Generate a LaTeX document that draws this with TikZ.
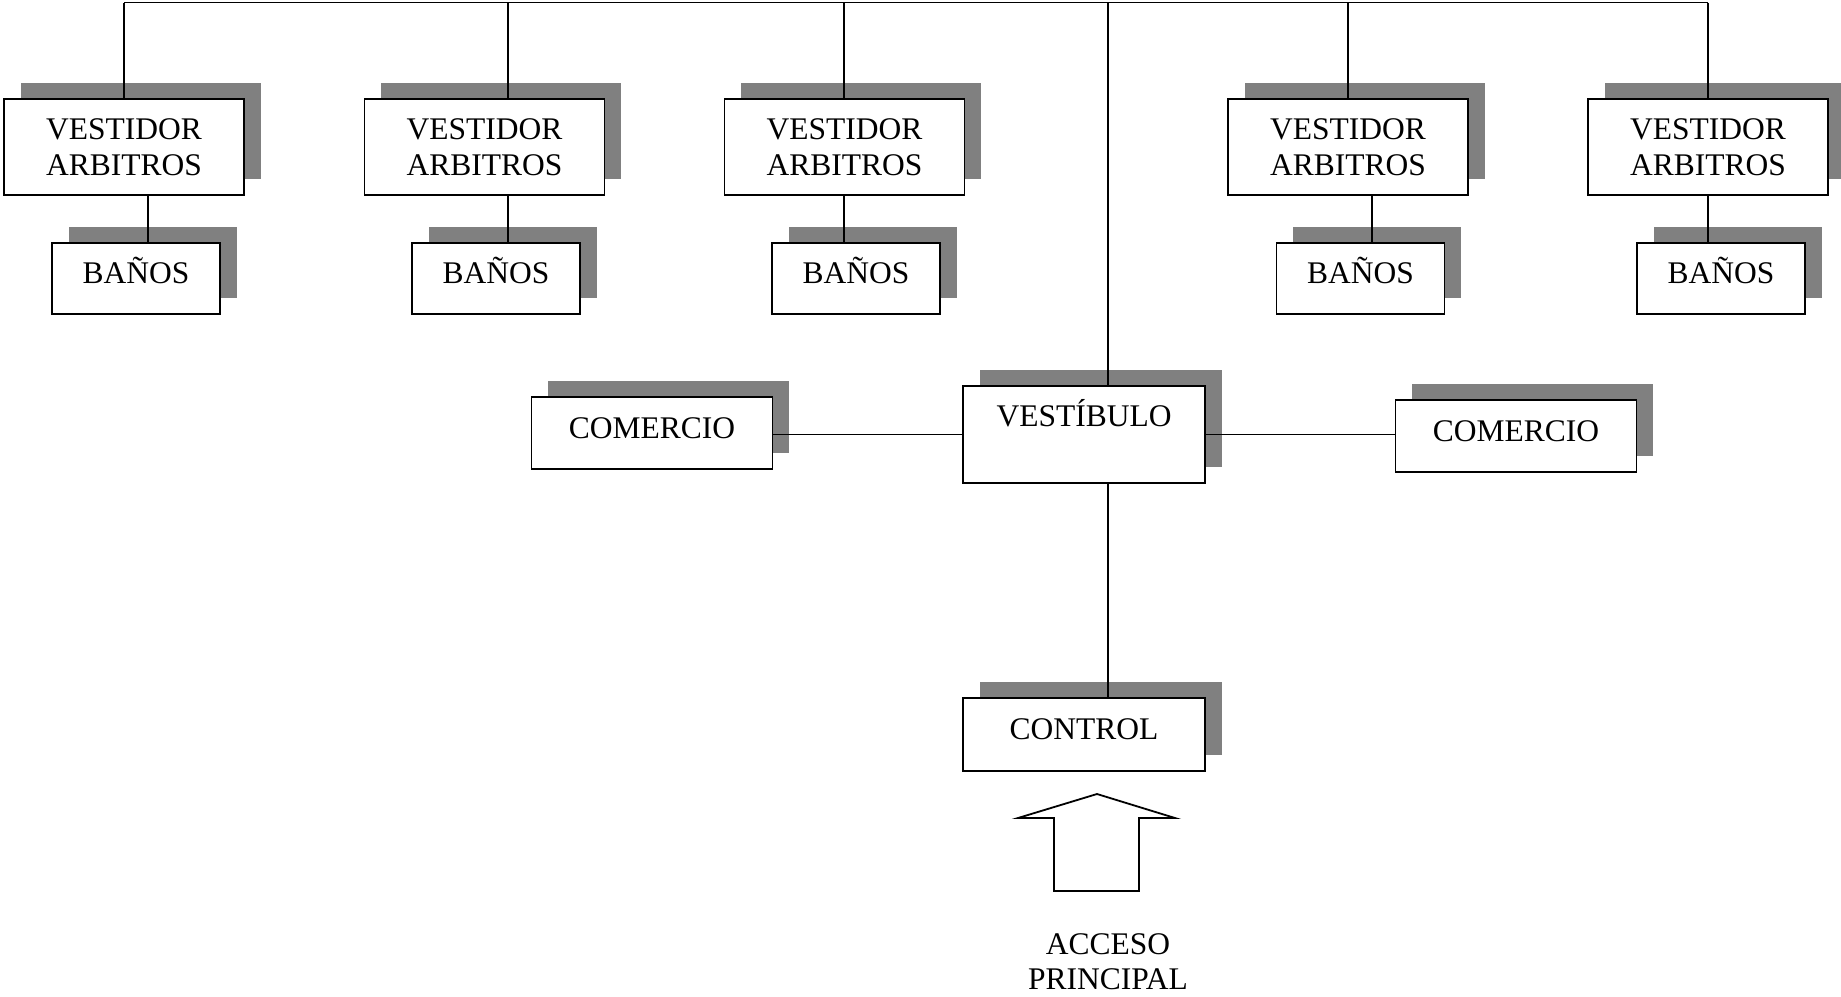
\documentclass[tikz,border=0pt]{standalone}
\usepackage{fontspec}
\setmainfont{Liberation Serif}
\usetikzlibrary{shadows}
\tikzset{
  base/.style={draw=black, line width=1.8pt, fill=white, inner sep=0pt, outer sep=0pt,
    font=\fontsize{31.5}{36}\selectfont,
    drop shadow={shadow xshift=16.5pt, shadow yshift=16pt, fill=gray, opacity=1, draw=none}},
  vest/.style={base, minimum width=240pt, minimum height=96pt, align=center},
  bano/.style={base, minimum width=168pt, minimum height=71pt, text height=21pt, text depth=12pt},
  com/.style={base, minimum width=241pt, minimum height=72pt, text height=21pt, text depth=11pt},
  conn/.style={draw=black, line width=1.8pt},
  entry/.style={draw=black, line width=1.8pt, line join=miter, fill=white},
  label/.style={font=\fontsize{31.5}{35}\selectfont, align=center, inner sep=0pt}
}
\begin{document}
\begin{tikzpicture}[x=1pt, y=-1pt]
\useasboundingbox (0,0) rectangle (1841,996);
% boxes
\node[vest] (V1) at (124,147) {VESTIDOR\\ARBITROS};
\node[vest] (V2) at (484.5,147) {VESTIDOR\\ARBITROS};
\node[vest] (V3) at (844.5,147) {VESTIDOR\\ARBITROS};
\node[vest] (V4) at (1348,147) {VESTIDOR\\ARBITROS};
\node[vest] (V5) at (1708,147) {VESTIDOR\\ARBITROS};
\node[bano] (B1) at (136,278.5) {BAÑOS};
\node[bano] (B2) at (496,278.5) {BAÑOS};
\node[bano] (B3) at (856,278.5) {BAÑOS};
\node[bano] (B4) at (1360.5,278.5) {BAÑOS};
\node[bano] (B5) at (1721,278.5) {BAÑOS};
\node[com] (C1) at (652,433) {COMERCIO};
\node[com] (C2) at (1516,436) {COMERCIO};
\node[base, minimum width=242pt, minimum height=97pt, text height=21pt, text depth=38pt] (VB) at (1084,434.5) {VESTÍBULO};
\node[base, minimum width=242pt, minimum height=73pt, text height=21pt, text depth=11pt] (CT) at (1084,734.5) {CONTROL};
% connector positions
\coordinate (top) at (0,2.5);
\coordinate (t1) at (124,0);
\coordinate (t2) at (508,0);
\coordinate (t3) at (844,0);
\coordinate (t4) at (1348,0);
\coordinate (t5) at (1708,0);
\coordinate (b1) at (148,0);
\coordinate (b2) at (508,0);
\coordinate (b3) at (844,0);
\coordinate (b4) at (1372,0);
\coordinate (b5) at (1708,0);
\coordinate (k0) at (1108,0);
% connectors
\draw[conn] (t1|-top) -- (t5|-top);
\draw[conn] (t1|-top) -- (t1|-V1.north);
\draw[conn] (t2|-top) -- (t2|-V2.north);
\draw[conn] (t3|-top) -- (t3|-V3.north);
\draw[conn] (t4|-top) -- (t4|-V4.north);
\draw[conn] (t5|-top) -- (t5|-V5.north);
\draw[conn] (b1|-V1.south) -- (b1|-B1.north);
\draw[conn] (b2|-V2.south) -- (b2|-B2.north);
\draw[conn] (b3|-V3.south) -- (b3|-B3.north);
\draw[conn] (b4|-V4.south) -- (b4|-B4.north);
\draw[conn] (b5|-V5.south) -- (b5|-B5.north);
\draw[conn] (k0|-top) -- (k0|-VB.north);
\draw[conn] (k0|-VB.south) -- (k0|-CT.north);
\draw[conn] (VB.west) -- (VB.west-|C1.east);
\draw[conn] (VB.east) -- (VB.east-|C2.west);
% entrance arrow
\draw[entry] (1097,794) -- (1175,818) -- (1139,818) -- (1139,891) -- (1054,891) -- (1054,818) -- (1018,818) -- cycle;
\node[label] (AP) at (1108,962) {ACCESO\\PRINCIPAL};
\end{tikzpicture}
\end{document}
